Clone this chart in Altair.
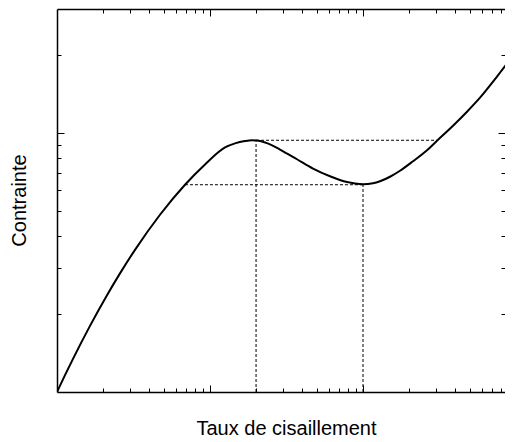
import altair as alt
import pandas as pd

# curve (log-log axes)
shear = [0.1, 0.11279, 0.12723, 0.16431, 0.21225, 0.25807, 0.32344, 0.47115,
         0.68639, 0.92754, 1.2534, 1.4569, 1.6934, 1.8818, 2.1225, 2.467,
         2.8675, 3.7035, 4.7115, 6.0862, 7.8603, 8.8659, 10.0, 11.624,
         12.915, 15.013, 17.451, 21.225, 26.2, 30.455, 38.75, 47.835,
         58.183, 75.114, 95.587]
stress = [1.0, 1.1611, 1.3424, 1.7994, 2.3628, 2.8676, 3.5339, 4.8256,
          6.3008, 7.5443, 8.7768, 9.0994, 9.2874, 9.3537, 9.2957, 9.0189,
          8.6112, 7.9, 7.2745, 6.7935, 6.4503, 6.3648, 6.3253, 6.3819,
          6.4963, 6.7634, 7.134, 7.7616, 8.5574, 9.3122, 10.642, 12.053,
          13.651, 16.455, 19.83]

# dotted construction lines
h_x1 = [2.0, 0.686]
h_x2 = [30.5, 10.0]
h_y = [9.35, 6.3]
v_x = [2.0, 10.0]
v_y1 = [1.0, 1.0]
v_y2 = [9.35, 6.3]

x_ticks = [0.2, 0.3, 0.4, 0.5, 0.6, 0.7, 0.8, 0.9, 1,
           2, 3, 4, 5, 6, 7, 8, 9, 10, 20, 30, 40, 50, 60, 70, 80]
y_ticks = [2, 3, 4, 5, 6, 7, 8, 9, 10, 20]

curve_df = pd.DataFrame({"x": shear, "y": stress})
h_df = pd.DataFrame({"x": h_x1, "x2": h_x2, "y": h_y})
v_df = pd.DataFrame({"x": v_x, "y": v_y1, "y2": v_y2})

font = "Liberation Sans"
tick_expr = {"expr": "(datum.value == 1 || datum.value == 10) ? -7 : -4"}

xscale = alt.Scale(type="log", domain=[0.1, 84.73], nice=False)
yscale = alt.Scale(type="log", domain=[1, 30], nice=False)

common = dict(labels=False, grid=False, ticks=True, tickColor="#000",
              tickWidth=1, tickSize=tick_expr, domainColor="#000",
              domainWidth=1.5)

x_bottom = alt.Axis(orient="bottom", values=x_ticks, title="Taux de cisaillement",
                    titleFont=font, titleFontSize=20, titleFontWeight="normal",
                    titleColor="#000", titleX=229, titleY=42,
                    titleAlign="center", titleBaseline="alphabetic", **common)
y_left = alt.Axis(orient="left", values=y_ticks, title="Contrainte",
                  titleFont=font, titleFontSize=20, titleFontWeight="normal",
                  titleColor="#000", titleAngle=270, titleX=-32, titleY=191,
                  titleAlign="center", titleBaseline="alphabetic", **common)
x_top = alt.Axis(orient="top", values=x_ticks, title="", **common)
y_right = alt.Axis(orient="right", values=y_ticks, title="", labels=False,
                   grid=False, ticks=True, tickColor="#000", tickWidth=1,
                   tickSize=tick_expr, domain=False)

curve = alt.Chart(curve_df).mark_line(color="#000", strokeWidth=2, clip=True,
                                      interpolate="monotone").encode(
    x=alt.X("x:Q", scale=xscale, axis=x_bottom),
    y=alt.Y("y:Q", scale=yscale, axis=y_left),
)

hlines = alt.Chart(h_df).mark_rule(color="#000", strokeWidth=1,
                                   strokeDash=[3, 2]).encode(
    x=alt.X("x:Q", scale=xscale, axis=x_top),
    x2="x2:Q",
    y=alt.Y("y:Q", scale=yscale, axis=y_right),
)

vlines = alt.Chart(v_df).mark_rule(color="#000", strokeWidth=1,
                                   strokeDash=[3, 2]).encode(
    x=alt.X("x:Q", scale=xscale, axis=None),
    y=alt.Y("y:Q", scale=yscale, axis=None),
    y2="y2:Q",
)

chart = alt.layer(curve, hlines, vlines).resolve_axis(
    x="independent", y="independent"
).properties(
    width=448, height=383,
    padding={"left": 49, "top": 1, "right": 0, "bottom": 47},
    autosize="none",
).configure_view(stroke="transparent")

chart.save("out.html", embed_options={"renderer": "svg", "actions": False})
